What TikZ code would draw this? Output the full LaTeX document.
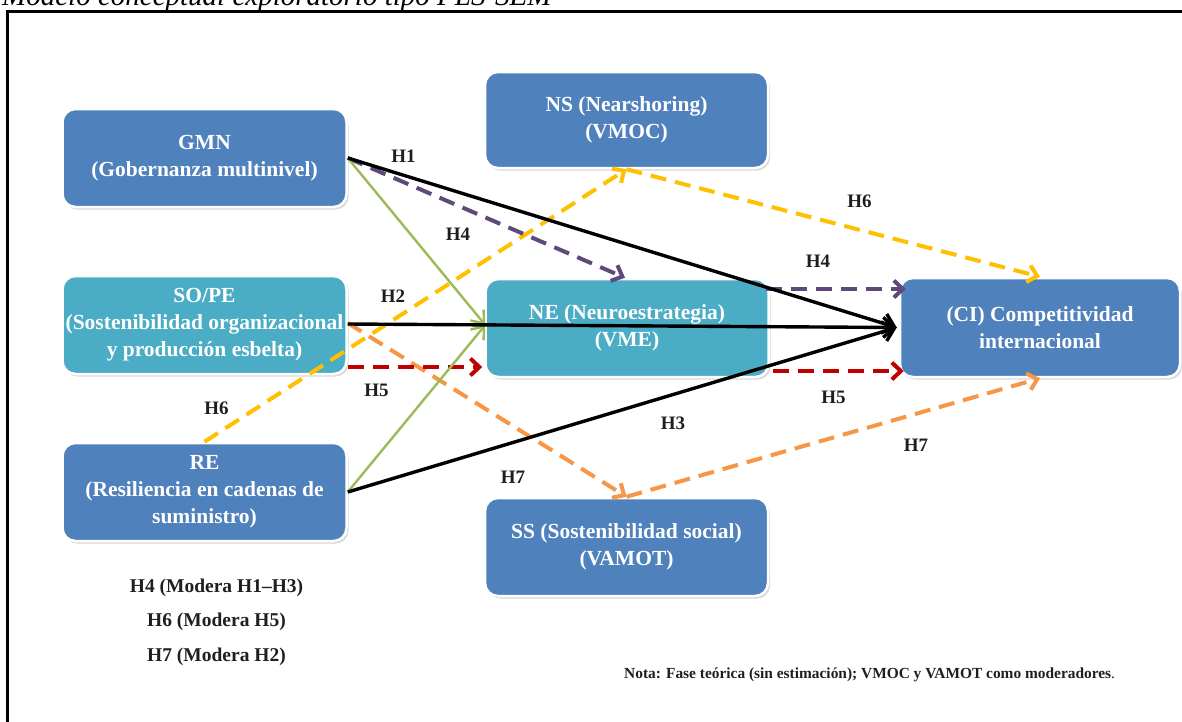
\documentclass[tikz,border=0pt]{standalone}
\usepackage{fontspec}
\setmainfont{Liberation Serif}
\usetikzlibrary{arrows.meta,calc,shadows}
\definecolor{boxblue}{HTML}{4F81BD}
\definecolor{boxteal}{HTML}{4BACC6}
\definecolor{cgreen}{HTML}{9BBB59}
\definecolor{cpurple}{HTML}{5F497A}
\definecolor{cred}{HTML}{C00000}
\definecolor{cyellow}{HTML}{FFC000}
\definecolor{corange}{HTML}{F79646}
\definecolor{labgray}{HTML}{1F1F1F}
\begin{document}
\begin{tikzpicture}[x=1pt,y=-1pt,
  box/.style={rounded corners=13pt, draw=white, line width=2.5pt,
    minimum width=284pt, minimum height=98pt, align=center, text=white,
    inner sep=0pt, font=\bfseries\fontsize{21.5}{27}\selectfont,
    drop shadow={opacity=0.3, shadow xshift=2pt, shadow yshift=-2.5pt}},
  lab/.style={font=\bfseries\fontsize{19}{19}\selectfont, text=labgray, inner sep=0pt},
  legend/.style={font=\bfseries\fontsize{19.5}{19.5}\selectfont, text=labgray, inner sep=0pt, anchor=base},
  blackarr/.style={draw=black, line width=3.4pt, -{Straight Barb[length=11pt,width=20pt]}},
  greenarr/.style={draw=cgreen, line width=2.4pt, -{Straight Barb[length=11pt,width=17pt]}},
  dasharr/.style={line width=4pt, dash pattern=on 16pt off 9pt, -{Straight Barb[length=9pt,width=17pt]}}
]
\useasboundingbox (0,0) rectangle (1182,721);
\fill[white] (0,0) rectangle (1182,721);
% title and frame
\node[anchor=base west, inner sep=0pt, font=\itshape\fontsize{29}{29}\selectfont] (title) at (2,5) {Modelo conceptual exploratorio tipo PLS-SEM};
\draw[line width=3.3pt] (7.5,740) -- (7.5,11.5) -- (1200,11.5);

% boxes
\node[box, fill=boxblue] (GMN) at (204.5,158) {GMN\\(Gobernanza multinivel)};
\node[box, fill=boxteal] (SOPE) at (204.5,325) {SO/PE\\(Sostenibilidad organizacional\\y producción esbelta)};
\node[box, fill=boxblue] (RE) at (204.5,492) {RE\\(Resiliencia en cadenas de\\suministro)};
\node[box, fill=boxblue, minimum width=283pt, minimum height=96pt] (NS) at (626.5,120) {NS (Nearshoring)\\(VMOC)};
\node[box, fill=boxteal, minimum width=283pt] (NE) at (627,328) {NE (Neuroestrategia)\\(VME)};
\node[box, fill=boxblue, minimum width=283pt] (SS) at (626.5,547) {SS (Sostenibilidad social)\\(VAMOT)};
\node[box, fill=boxblue, minimum width=280pt, minimum height=99pt] (CI) at (1040,327.5) {(CI) Competitividad\\internacional};

% dashed moderator paths
\draw[dasharr, draw=cyellow] (RE.north) -- (NS.south);
\draw[dasharr, draw=cyellow] (NS.south) -- (CI.north);
\draw[dasharr, draw=corange] ($(SOPE.east)+(0,-2)$) -- (SS.north);
\draw[dasharr, draw=corange] (SS.north) -- (CI.south);
\draw[dasharr, draw=cpurple] (GMN.east) -- ($(NE.north)+(-2,0)$);
\draw[dasharr, draw=cpurple] ($(NE.east)+(-4,-39)$) -- ($(CI.west)+(7,-38.5)$);
\draw[dasharr, draw=cred] ($(SOPE.east)+(0,42)$) -- ($(NE.west)+(-2,39)$);
\draw[dasharr, draw=cred] ($(NE.east)+(3,43)$) -- ($(CI.west)+(5,43.5)$);

% green paths
\draw[greenarr] (GMN.east) -- ($(NE.west)+(1,-3)$);
\draw[greenarr] (RE.east) -- ($(NE.west)+(1,-3)$);

% black main paths
\draw[blackarr] (GMN.east) -- ($(CI.west)+(-2,0)$);
\draw[blackarr] ($(SOPE.east)+(0,-1)$) -- ($(CI.west)+(-2,0)$);
\draw[blackarr] (RE.east) -- ($(CI.west)+(-2,0)$);

% labels
\node[lab] (h1) at (403.5,156) {H1};
\node[lab] (h4a) at (458,234.5) {H4};
\node[lab] (h2) at (393,296.5) {H2};
\node[lab] (h5a) at (376.5,390) {H5};
\node[lab] (h6a) at (216.5,408) {H6};
\node[lab] (h4b) at (818,261.5) {H4};
\node[lab] (h6b) at (859.5,201.5) {H6};
\node[lab] (h5b) at (833.5,397) {H5};
\node[lab] (h3) at (673,423) {H3};
\node[lab] (h7a) at (513,477) {H7};
\node[lab] (h7b) at (916,445) {H7};

% legend
\node[legend] (lg1) at (216.5,592) {H4 (Modera H1–H3)};
\node[legend] (lg2) at (216.5,626) {H6 (Modera H5)};
\node[legend] (lg3) at (216.5,661) {H7 (Modera H2)};
\node[anchor=base west, inner sep=0pt, text=labgray, font=\fontsize{15.4}{15.4}\selectfont] (nota) at (624,678) {\textbf{Nota: Fase teórica (sin estimación); VMOC y VAMOT como moderadores}.};
\end{tikzpicture}
\end{document}
